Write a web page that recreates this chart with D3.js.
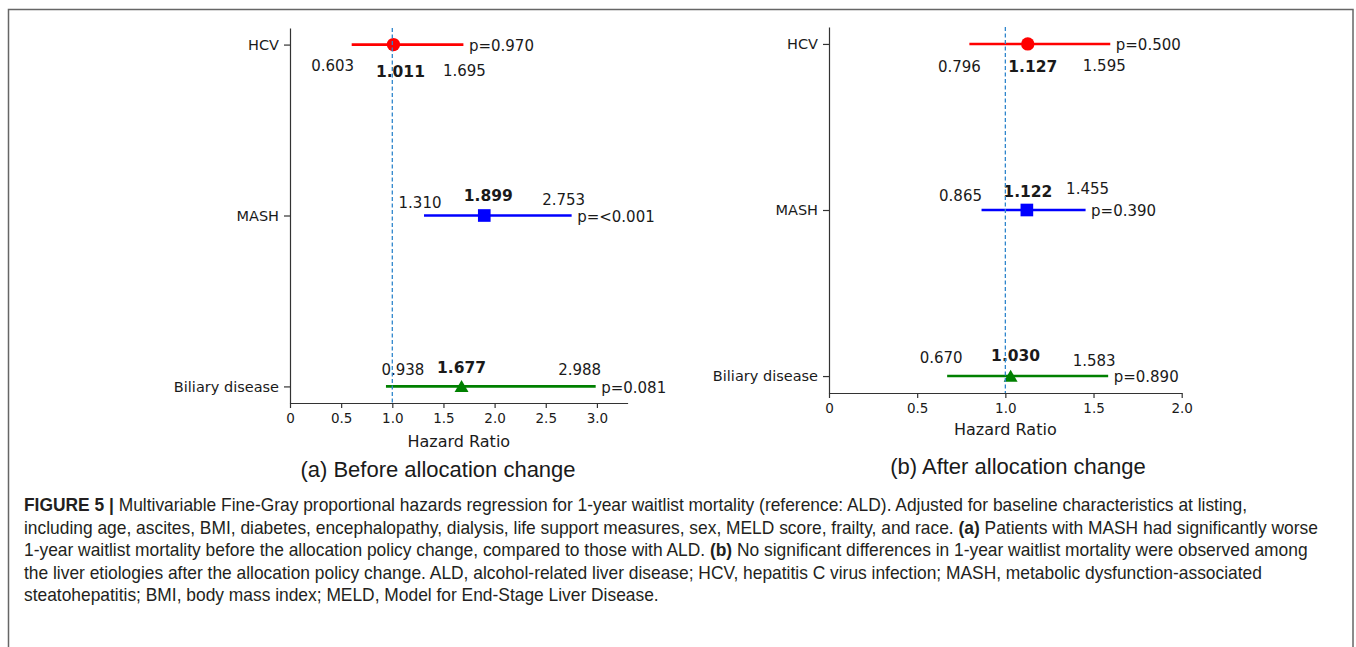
<!DOCTYPE html>
<html>
<head>
<meta charset="utf-8">
<script src="https://cdn.jsdelivr.net/npm/d3@7"></script>
<style>
  body { margin: 0; background: #fff; }
  svg { display: block; }
</style>
</head>
<body>
<div id="chart"></div>
<script>
// forest plots of fine-gray hazard ratios, before / after the allocation change

const categories = ['HCV', 'MASH', 'Biliary disease']

const hrBefore = [1.011, 1.899, 1.677]
const lowerBefore = [0.603, 1.310, 0.938]
const upperBefore = [1.695, 2.753, 2.988]
const pBefore = ['p=0.970', 'p=<0.001', 'p=0.081']

const hrAfter = [1.127, 1.122, 1.030]
const lowerAfter = [0.796, 0.865, 0.670]
const upperAfter = [1.595, 1.455, 1.583]
const pAfter = ['p=0.500', 'p=0.390', 'p=0.890']

const ticksBefore = [0, 0.5, 1.0, 1.5, 2.0, 2.5, 3.0]
const tickLabelsBefore = ['0', '0.5', '1.0', '1.5', '2.0', '2.5', '3.0']
const ticksAfter = [0, 0.5, 1.0, 1.5, 2.0]
const tickLabelsAfter = ['0', '0.5', '1.0', '1.5', '2.0']

const referenceHR = 1
const axisTitle = 'Hazard Ratio'
const panelTitles = ['(a) Before allocation change', '(b) After allocation change']

const captionLines = [
  [['FIGURE 5 |', true], [' Multivariable Fine-Gray proportional hazards regression for 1-year waitlist mortality (reference: ALD). Adjusted for baseline characteristics at listing,', false]],
  [['including age, ascites, BMI, diabetes, encephalopathy, dialysis, life support measures, sex, MELD score, frailty, and race. ', false], ['(a)', true], [' Patients with MASH had significantly worse', false]],
  [['1-year waitlist mortality before the allocation policy change, compared to those with ALD. ', false], ['(b)', true], [' No significant differences in 1-year waitlist mortality were observed among', false]],
  [['the liver etiologies after the allocation policy change. ALD, alcohol-related liver disease; HCV, hepatitis C virus infection; MASH, metabolic dysfunction-associated', false]],
  [['steatohepatitis; BMI, body mass index; MELD, Model for End-Stage Liver Disease.', false]]
]

// styles / layout (not data)
const seriesColors = ['#ff0000', '#0000ff', '#008000']
const markerKinds = ['circle', 'square', 'triangle']
const font = 'DejaVu Sans, sans-serif'

// label nudges [dx, dy] for lower, hr, upper text, per row
const nudgeBefore = [
  [[-19, 21], [7, 27], [1, 26]],
  [[-4, -13], [4, -20], [-8, -16]],
  [[17, -17], [0, -19], [-16, -17]]
]
const nudgeAfter = [
  [[-10, 23], [5, 23], [-6, 22]],
  [[-21, -14], [1, -18], [2, -21]],
  [[-6, -18], [5, -20], [-14, -15]]
]

const panels = [
  {
    hr: hrBefore, lo: lowerBefore, hi: upperBefore, p: pBefore,
    ticks: ticksBefore, tickLabels: tickLabelsBefore, nudge: nudgeBefore,
    xDomain: [0, 3.3], left: 290, right: 627.6, top: 28, bottom: 403, pad: 0.097,
    titleX: 438, titleY: 469, axisTitleY: 441
  },
  {
    hr: hrAfter, lo: lowerAfter, hi: upperAfter, p: pAfter,
    ticks: ticksAfter, tickLabels: tickLabelsAfter, nudge: nudgeAfter,
    xDomain: [0, 2.0], left: 829, right: 1181.7, top: 27, bottom: 393, pad: 0.102,
    titleX: 1018, titleY: 466, axisTitleY: 429
  }
]

const svg = d3.select('#chart')
  .append('svg')
  .attr('width', 1356)
  .attr('height', 647)

// outer frame, open at the bottom of the crop
svg.append('rect')
  .attr('x', 8.5)
  .attr('y', 9.5)
  .attr('width', 1344.5)
  .attr('height', 700)
  .attr('fill', 'none')
  .attr('stroke', '#666')
  .attr('stroke-width', 1.5)

// triangle centred on its box, like the matplotlib '^'
const triangleUp = {
  draw (context, size) {
    const s = Math.sqrt(size)
    context.moveTo(0, -s * 0.5)
    context.lineTo(s * 0.55, s * 0.45)
    context.lineTo(-s * 0.55, s * 0.45)
    context.closePath()
  }
}

function markerPath (kind) {
  if (kind === 'circle') return d3.symbol(d3.symbolCircle, 140)()
  if (kind === 'square') return d3.symbol(d3.symbolSquare, 160)()
  return d3.symbol(triangleUp, 160)()
}

function drawPanel (cfg, idx) {
  const x = d3.scaleLinear().domain(cfg.xDomain).range([cfg.left, cfg.right])
  const y = d3.scalePoint().domain(categories).range([cfg.top, cfg.bottom]).padding(cfg.pad)

  const g = svg.append('g').attr('class', 'panel' + idx)

  const xAxis = g.append('g')
    .attr('transform', `translate(0,${cfg.bottom})`)
    .call(d3.axisBottom(x)
      .tickValues(cfg.ticks)
      .tickFormat((d, i) => cfg.tickLabels[i])
      .tickSize(5)
      .tickSizeOuter(0)
      .tickPadding(5))

  const yAxis = g.append('g')
    .attr('transform', `translate(${cfg.left},0)`)
    .call(d3.axisLeft(y)
      .tickSize(6)
      .tickSizeOuter(0)
      .tickPadding(5))

  g.selectAll('.domain, .tick line')
    .attr('stroke', '#333')
    .attr('stroke-width', 1.2)
  xAxis.selectAll('text')
    .style('font-family', font)
    .style('font-size', '13.5px')
    .attr('fill', '#1a1a1a')
  yAxis.selectAll('text')
    .style('font-family', font)
    .style('font-size', '14.5px')
    .attr('fill', '#1a1a1a')

  g.append('text')
    .attr('x', (cfg.left + cfg.right) / 2)
    .attr('y', cfg.axisTitleY)
    .attr('dy', '0.35em')
    .attr('text-anchor', 'middle')
    .style('font-family', font)
    .style('font-size', '16px')
    .attr('fill', '#1a1a1a')
    .text(axisTitle)

  g.append('text')
    .attr('x', cfg.titleX)
    .attr('y', cfg.titleY)
    .attr('dy', '0.35em')
    .attr('text-anchor', 'middle')
    .style('font-family', 'Liberation Sans, Arial, sans-serif')
    .style('font-size', '22px')
    .attr('fill', '#1a1a1a')
    .text(panelTitles[idx])

  const rows = categories.map((c, i) => ({
    cat: c, hr: cfg.hr[i], lo: cfg.lo[i], hi: cfg.hi[i], p: cfg.p[i], i: i
  }))

  // confidence intervals
  g.selectAll('.ci')
    .data(rows)
    .enter().append('line')
    .attr('x1', d => x(d.lo))
    .attr('x2', d => x(d.hi))
    .attr('y1', d => y(d.cat))
    .attr('y2', d => y(d.cat))
    .attr('stroke', d => seriesColors[d.i])
    .attr('stroke-width', 2.6)

  // point estimates
  g.selectAll('.marker')
    .data(rows)
    .enter().append('path')
    .attr('d', d => markerPath(markerKinds[d.i]))
    .attr('transform', d => `translate(${x(d.hr)},${y(d.cat)})`)
    .attr('fill', d => seriesColors[d.i])

  // lower / hr / upper value labels
  rows.forEach(d => {
    const vals = [d.lo, d.hr, d.hi]
    vals.forEach((v, k) => {
      const nd = cfg.nudge[d.i][k]
      g.append('text')
        .attr('x', x(v) + nd[0])
        .attr('y', y(d.cat) + nd[1])
        .attr('dy', '0.35em')
        .attr('text-anchor', 'middle')
        .style('font-family', font)
        .style('font-size', k === 1 ? '15.5px' : '15px')
        .style('font-weight', k === 1 ? 'bold' : 'normal')
        .attr('fill', '#1a1a1a')
        .text(v.toFixed(3))
    })
  })

  g.selectAll('.pval')
    .data(rows)
    .enter().append('text')
    .attr('x', d => x(d.hi) + 5.5)
    .attr('y', d => y(d.cat) + 1)
    .attr('dy', '0.35em')
    .style('font-family', font)
    .style('font-size', '15px')
    .attr('fill', '#1a1a1a')
    .text(d => d.p)

  // dashed reference at HR = 1
  g.append('line')
    .attr('x1', x(referenceHR))
    .attr('x2', x(referenceHR))
    .attr('y1', cfg.top)
    .attr('y2', cfg.bottom)
    .attr('stroke', '#2f86cc')
    .attr('stroke-width', 1.3)
    .attr('stroke-dasharray', '4,2.5')
}

panels.forEach(drawPanel)

// caption: squeezed horizontally as a whole to mimic the condensed face
const caption = svg.append('g')
const captionTexts = captionLines.map((line, i) => {
  const t = caption.append('text')
    .attr('x', 0)
    .attr('y', 511 + i * 22.6)
    .style('font-family', 'Liberation Sans, Arial, sans-serif')
    .style('font-size', '17.5px')
    .attr('fill', '#231f20')
  line.forEach(seg => {
    t.append('tspan')
      .style('font-weight', seg[1] ? 'bold' : 'normal')
      .text(seg[0])
  })
  return t
})
const squeeze = (1308 - 24) / captionTexts[2].node().getComputedTextLength()
caption.attr('transform', `translate(24,0) scale(${squeeze},1)`)
</script>
</body>
</html>
